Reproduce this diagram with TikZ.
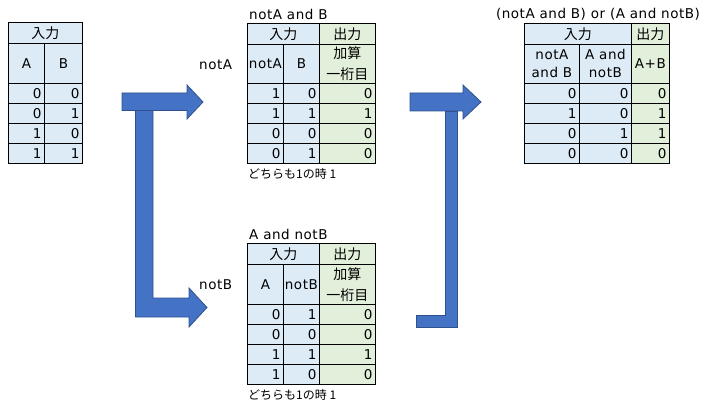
\documentclass[tikz,border=0pt]{standalone}
\usepackage{fontspec}
\setmainfont[LetterSpace=4]{DejaVu Sans}
\newfontfamily\jpfont{Noto Sans CJK JP}
\definecolor{inblue}{HTML}{DDEBF7}
\definecolor{outgreen}{HTML}{E2EFDA}
\definecolor{arrowblue}{HTML}{4472C4}
\definecolor{arrowline}{HTML}{2F528F}

\begin{document}
\begin{tikzpicture}[x=1pt,y=-1pt,
	tcell/.style={
		rectangle,
		draw=black,
		line width=0.8pt,
		anchor=north west,
		inner sep=0pt,
		align=center,
		font=\fontsize{13.5}{18}\selectfont
	},
	incell/.style={tcell, fill=inblue},
	outcell/.style={tcell, fill=outgreen},
	num/.style={text width=#1, align=right, inner xsep=3pt, minimum height=20pt},
	jp/.style={font=\jpfont\fontsize{14}{21}\selectfont},
	lbl/.style={inner sep=0pt, anchor=west, font=\fontsize{13.5}{16}\selectfont},
	note/.style={inner sep=0pt, anchor=west, font=\jpfont\fontsize{12}{14}\selectfont},
	blockarrow/.style={fill=arrowblue, draw=arrowline, line width=0.8pt}
]
\useasboundingbox (0,0) rectangle (709,406);

% input table
\node[incell, jp, minimum width=74pt, minimum height=21pt] (in_head) at (8,22) {入力};
\node[incell, minimum width=36pt, minimum height=40pt] (in_a) at (8,43) {A};
\node[incell, minimum width=38pt, minimum height=40pt] (in_b) at (44,43) {B};
\foreach \a/\b [count=\i] in {0/0,0/1,1/0,1/1} {
	\node[incell, num=30pt] (in_\i_a) at (8,{63+20*\i}) {\a};
	\node[incell, num=32pt] (in_\i_b) at (44,{63+20*\i}) {\b};
}

% notA and B
\node[lbl] (nab_title) at (249,14) {notA and B};
\node[lbl] (nab_in) at (199,65) {notA};
\node[incell, jp, minimum width=72pt, minimum height=21pt] (nab_head) at (247,23) {入力};
\node[outcell, jp, minimum width=56pt, minimum height=21pt] (nab_out) at (319,23) {出力};
\node[incell, minimum width=36pt, minimum height=39pt] (nab_a) at (247,44) {notA};
\node[incell, minimum width=36pt, minimum height=39pt] (nab_b) at (283,44) {B};
\node[outcell, jp, minimum width=56pt, minimum height=39pt] (nab_c) at (319,44) {加算\\一桁目};
\foreach \a/\b/\c [count=\i] in {1/0/0,1/1/1,0/0/0,0/1/0} {
	\node[incell, num=30pt] (nab_\i_a) at (247,{63+20*\i}) {\a};
	\node[incell, num=30pt] (nab_\i_b) at (283,{63+20*\i}) {\b};
	\node[outcell, num=50pt] (nab_\i_c) at (319,{63+20*\i}) {\c};
}
\node[note] (nab_note) at (248,174) {どちらも1の時 1};

% A and notB
\node[lbl] (anb_title) at (249,234) {A and notB};
\node[lbl] (anb_in) at (199,285) {notB};
\node[incell, jp, minimum width=72pt, minimum height=21pt] (anb_head) at (247,243) {入力};
\node[outcell, jp, minimum width=56pt, minimum height=21pt] (anb_out) at (319,243) {出力};
\node[incell, minimum width=36pt, minimum height=40pt] (anb_a) at (247,264) {A};
\node[incell, minimum width=36pt, minimum height=40pt] (anb_b) at (283,264) {notB};
\node[outcell, jp, minimum width=56pt, minimum height=40pt] (anb_c) at (319,264) {加算\\一桁目};
\foreach \a/\b/\c [count=\i] in {0/1/0,0/0/0,1/1/1,1/0/0} {
	\node[incell, num=30pt] (anb_\i_a) at (247,{284+20*\i}) {\a};
	\node[incell, num=30pt] (anb_\i_b) at (283,{284+20*\i}) {\b};
	\node[outcell, num=50pt] (anb_\i_c) at (319,{284+20*\i}) {\c};
}
\node[note] (anb_note) at (248,395) {どちらも1の時 1};

% or
\node[lbl, anchor=center] (or_title) at (598,14) {(notA and B) or (A and notB)};
\node[incell, jp, minimum width=107pt, minimum height=21pt] (or_head) at (524,23) {入力};
\node[outcell, jp, minimum width=38pt, minimum height=21pt] (or_out) at (631,23) {出力};
\node[incell, minimum width=55pt, minimum height=39pt] (or_a) at (524,44) {notA\\and B};
\node[incell, minimum width=52pt, minimum height=39pt] (or_b) at (579,44) {A and\\notB};
\node[outcell, minimum width=38pt, minimum height=39pt] (or_c) at (631,44) {A+B};
\foreach \a/\b/\c [count=\i] in {0/0/0,1/0/1,0/1/1,0/0/0} {
	\node[incell, num=49pt] (or_\i_a) at (524,{63+20*\i}) {\a};
	\node[incell, num=46pt] (or_\i_b) at (579,{63+20*\i}) {\b};
	\node[outcell, num=32pt] (or_\i_c) at (631,{63+20*\i}) {\c};
}

% block arrows
\draw[blockarrow] (122,93) -- (187,93) -- (187,85) -- (203,102) -- (187,119) -- (187,110.5) -- (122,110.5) -- cycle;
\draw[blockarrow] (135.5,110.5) -- (153,110.5) -- (153,298) -- (189,298) -- (189,288) -- (207,307.5) -- (189,327) -- (189,317) -- (135.5,317) -- cycle;
\draw[blockarrow] (410,93) -- (463,93) -- (463,85) -- (481,102) -- (463,119) -- (463,111) -- (410,111) -- cycle;
\draw[blockarrow] (445,111) -- (457,111) -- (457,327) -- (416,327) -- (416,315) -- (445,315) -- cycle;

\end{tikzpicture}
\end{document}
